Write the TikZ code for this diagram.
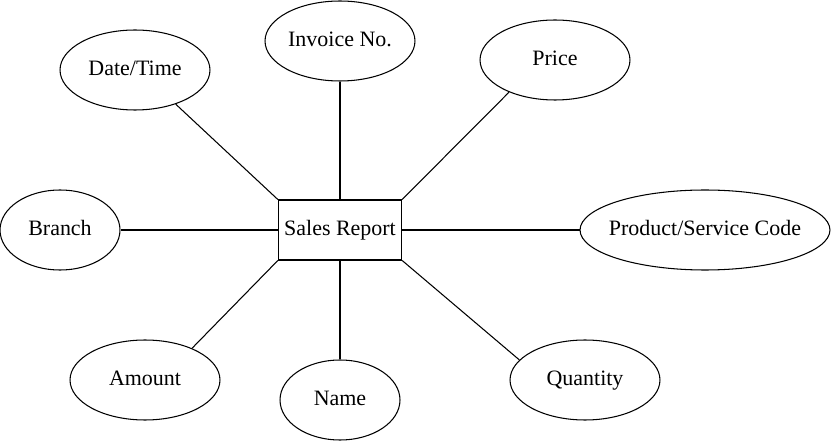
\documentclass[tikz,border=0pt]{standalone}
\usepackage{fontspec}
\setmainfont{Liberation Serif}
\usetikzlibrary{shapes.geometric}
\begin{document}
\begin{tikzpicture}[x=0.02cm,y=-0.02cm,line width=0.6pt,
            font=\fontsize{12.5}{15}\selectfont,
            entity/.style={draw,minimum width=2.4cm,minimum height=1.2cm,text height=0.75em,text depth=0.15em},
            attr/.style={draw,ellipse,inner xsep=-0.6cm,inner ysep=0pt,minimum width=3cm,minimum height=1.6cm,
                    text height=0.75em,text depth=0.15em}]
            \useasboundingbox (0,0)rectangle(832,442);
            \node[entity] (sales) at (340,230) {Sales Report};
            \node[attr] (invoice) at (340,41) {Invoice No.};
            \node[attr] (date) at (135,70) {Date/Time};
            \node[attr] (price) at (555,60) {Price};
            \node[attr,minimum width=2.4cm] (branch) at (60,230) {Branch};
            \node[attr,minimum width=5cm] (product) at (705,230) {Product/Service Code};
            \node[attr] (amount) at (145,380) {Amount};
            \node[attr,minimum width=2.4cm] (name) at (340,400) {Name};
            \node[attr] (quantity) at (585,380) {Quantity};
            \foreach \u/\v in {north west/date.-40, north/invoice, north east/price.215, east/product,
                    south east/quantity.163, south/name, south west/amount.34, west/branch}
            \draw (sales.\u)--(\v);
\end{tikzpicture}
\end{document}
